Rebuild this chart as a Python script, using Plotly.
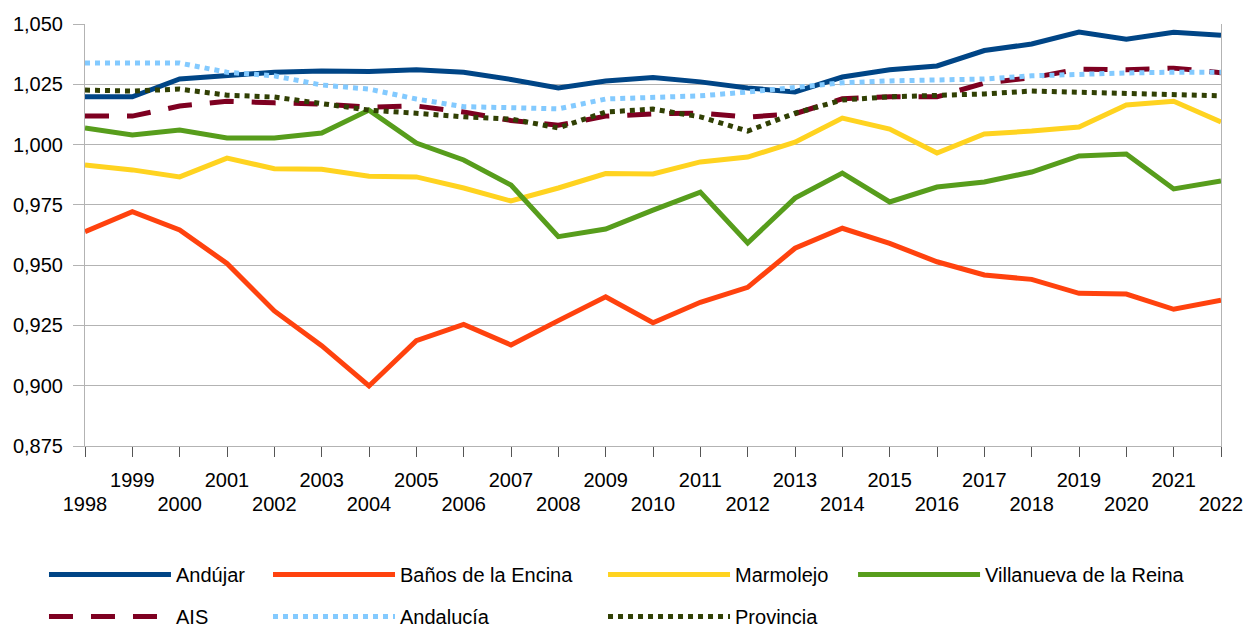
import plotly.graph_objects as go

years = list(range(1998, 2023))

andujar = [1.0198, 1.0198, 1.0272, 1.0288, 1.0300, 1.0305, 1.0303, 1.0310, 1.0300, 1.0270, 1.0235, 1.0264, 1.0278,
           1.0260, 1.0235, 1.0218, 1.0280, 1.0310, 1.0326, 1.0390, 1.0417, 1.0467, 1.0437, 1.0466, 1.0453]
banos = [0.9639, 0.9722, 0.9646, 0.9507, 0.9310, 0.9166, 0.8999, 0.9187, 0.9254, 0.9169, 0.9270, 0.9369, 0.9261,
         0.9346, 0.9408, 0.9570, 0.9653, 0.9590, 0.9514, 0.9459, 0.9441, 0.9383, 0.9380, 0.9317, 0.9355]
marmolejo = [0.9915, 0.9895, 0.9866, 0.9944, 0.9900, 0.9898, 0.9869, 0.9866, 0.9820, 0.9766, 0.9820, 0.9880, 0.9878,
             0.9928, 0.9948, 1.0010, 1.0110, 1.0064, 0.9965, 1.0044, 1.0056, 1.0073, 1.0164, 1.0180, 1.0094]
villanueva = [1.0069, 1.0040, 1.0060, 1.0027, 1.0027, 1.0048, 1.0143, 1.0006, 0.9936, 0.9832, 0.9618, 0.9650, 0.9728,
              0.9803, 0.9592, 0.9778, 0.9882, 0.9762, 0.9824, 0.9845, 0.9886, 0.9953, 0.9961, 0.9816, 0.9849]
ais = [1.0118, 1.0118, 1.0160, 1.0180, 1.0173, 1.0168, 1.0155, 1.0160, 1.0135, 1.0100, 1.0080, 1.0118, 1.0127,
       1.0131, 1.0114, 1.0128, 1.0190, 1.0198, 1.0198, 1.0255, 1.0277, 1.0313, 1.0310, 1.0317, 1.0298]
andalucia = [1.0338, 1.0338, 1.0338, 1.0300, 1.0285, 1.0247, 1.0230, 1.0189, 1.0157, 1.0153, 1.0148, 1.0189, 1.0197,
             1.0202, 1.0218, 1.0238, 1.0256, 1.0264, 1.0268, 1.0272, 1.0285, 1.0293, 1.0297, 1.0300, 1.0300]
provincia = [1.0226, 1.0222, 1.0230, 1.0205, 1.0197, 1.0172, 1.0143, 1.0130, 1.0115, 1.0106, 1.0069, 1.0135, 1.0147,
             1.0115, 1.0056, 1.0130, 1.0185, 1.0198, 1.0202, 1.0210, 1.0222, 1.0218, 1.0214, 1.0210, 1.0202]

# staggered year labels: odd years on the upper row, even years on the lower row
odd_labels = [str(y) if y % 2 else "" for y in years]
even_years = [y for y in years if y % 2 == 0]
even_labels = [str(y) for y in even_years]

FONT = "Liberation Sans, Arial, sans-serif"
GRID = "#b3b3b3"

# (name, values, colour, dash, legend column, x axis)
# Provincia is drawn last anyway, so it sits on the overlay axis that carries the lower label row
series = [
    ("Andújar", andujar, "#004586", "solid", "legend", "x"),
    ("Baños de la Encina", banos, "#ff420e", "solid", "legend2", "x"),
    ("Marmolejo", marmolejo, "#ffd320", "solid", "legend3", "x"),
    ("Villanueva de la Reina", villanueva, "#579d1c", "solid", "legend4", "x"),
    ("AIS", ais, "#7e0021", "24px,18px", "legend", "x"),
    ("Andalucía", andalucia, "#83caff", "dot", "legend2", "x"),
    ("Provincia", provincia, "#314004", "dot", "legend3", "x3"),
]

fig = go.Figure()
for name, values, color, dash, legend, xaxis in series:
    fig.add_trace(go.Scatter(
        x=years, y=values, mode="lines", name=name, legend=legend, legendgroup=name, xaxis=xaxis,
        line={"color": color, "width": 5, "dash": dash},
    ))

legend_style = dict(
    orientation="v", xanchor="left", yanchor="top", y=-0.258,
    bgcolor="rgba(0,0,0,0)", font={"family": FONT, "size": 20, "color": "#000"},
    itemwidth=122, tracegroupgap=13, traceorder="grouped",
)

fig.update_layout(
    width=1246, height=628,
    margin={"l": 85, "r": 25, "t": 24, "b": 182, "autoexpand": False},
    paper_bgcolor="white", plot_bgcolor="white",
    separators=",.",
    font={"family": FONT, "size": 20, "color": "#000"},
    showlegend=True,
    legend={**legend_style, "x": -0.0361},
    legend2={**legend_style, "x": 0.1611},
    legend3={**legend_style, "x": 0.4560},
    legend4={**legend_style, "x": 0.6761},
    xaxis={
        "range": [1998, 2022], "tickmode": "array", "tickvals": years, "ticktext": odd_labels,
        "tickangle": 0, "ticks": "outside", "ticklen": 10, "tickcolor": "#555", "showline": True,
        "linecolor": GRID, "showgrid": False, "zeroline": False, "automargin": False,
        "ticklabelstandoff": 6,
    },
    xaxis2={
        "range": [1998, 2022], "overlaying": "x", "anchor": "free", "position": (1.0 - 0.875) / 0.175,
        "tickmode": "array", "tickvals": years, "ticks": "outside", "ticklen": 10, "tickcolor": "#333",
        "showticklabels": False, "showline": True, "linecolor": "#444", "linewidth": 1.5,
        "showgrid": False, "zeroline": False, "automargin": False,
    },
    xaxis3={
        "range": [1998, 2022], "overlaying": "x", "anchor": "y", "side": "bottom",
        "tickmode": "array", "tickvals": even_years, "ticktext": even_labels, "tickangle": 0,
        "ticks": "", "showline": False, "showgrid": False, "zeroline": False, "automargin": False,
        "ticklabelstandoff": 44,
    },
    yaxis={
        "range": [0.875, 1.050], "tick0": 0.875, "dtick": 0.025, "tickformat": ".3f",
        "ticks": "outside", "ticklen": 11, "tickcolor": GRID, "showline": True, "linecolor": GRID,
        "mirror": True, "gridcolor": GRID, "zeroline": False, "automargin": False,
        "ticklabelstandoff": 6,
    },
)

# drop the page's default body margin so the figure fills the window exactly
fig.write_html(
    "out.html",
    config={"displayModeBar": False},
    post_script="document.body.style.margin = '0';",
)
